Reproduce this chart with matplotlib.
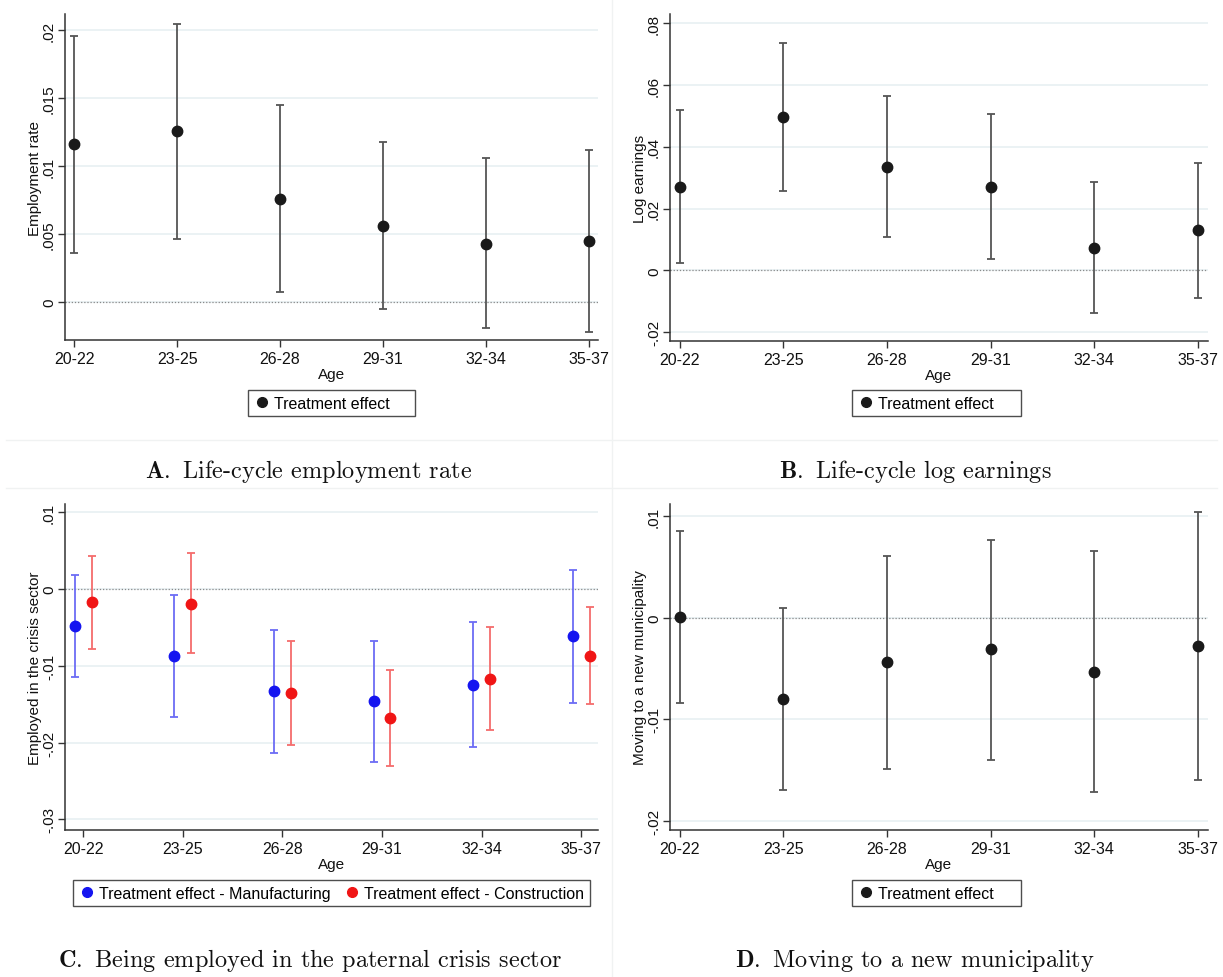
import matplotlib
matplotlib.use('Agg')
import matplotlib.pyplot as plt
from matplotlib.ticker import FuncFormatter
from matplotlib.lines import Line2D
import numpy as np

plt.rcParams['font.family'] = ['Liberation Sans', 'DejaVu Sans']
plt.rcParams['mathtext.fontset'] = 'cm'

ages = ['20-22', '23-25', '26-28', '29-31', '32-34', '35-37']

# A: life-cycle employment rate
emp_est = [0.0116, 0.0126, 0.0076, 0.0056, 0.0043, 0.0045]
emp_hi = [0.0196, 0.0205, 0.0145, 0.0118, 0.0106, 0.0112]
emp_lo = [0.0036, 0.0046, 0.0007, -0.0005, -0.0019, -0.0022]

# B: life-cycle log earnings
earn_est = [0.0270, 0.0495, 0.0335, 0.0270, 0.0073, 0.0130]
earn_hi = [0.0519, 0.0737, 0.0563, 0.0507, 0.0285, 0.0349]
earn_lo = [0.0024, 0.0256, 0.0108, 0.0036, -0.0137, -0.0090]

# C: employed in the paternal crisis sector
manu_est = [-0.0048, -0.0087, -0.0133, -0.0146, -0.0125, -0.0061]
manu_hi = [0.0018, -0.0008, -0.0053, -0.0068, -0.0043, 0.0025]
manu_lo = [-0.0115, -0.0167, -0.0214, -0.0225, -0.0206, -0.0148]
cons_est = [-0.0017, -0.0019, -0.0135, -0.0168, -0.0117, -0.0087]
cons_hi = [0.0043, 0.0047, -0.0068, -0.0105, -0.0050, -0.0023]
cons_lo = [-0.0078, -0.0083, -0.0203, -0.0230, -0.0183, -0.0150]

# D: moving to a new municipality
move_est = [0.0001, -0.0080, -0.0044, -0.0031, -0.0053, -0.0028]
move_hi = [0.0085, 0.0010, 0.0061, 0.0077, 0.0066, 0.0104]
move_lo = [-0.0084, -0.0170, -0.0149, -0.0140, -0.0172, -0.0160]

W, H = 1223, 978
fig = plt.figure(figsize=(W / 100, H / 100), dpi=100)


def rect(l, r, t, b):
    return [l / W, 1 - b / H, (r - l) / W, (b - t) / H]


def stata_fmt(v, pos):
    v = round(v, 6)
    if v == 0:
        return '0'
    s = f'{v:g}'
    return s.replace('0.', '.')


grey = '#555555'


def setup(ax, ylim, yticks, xlim, ylabel):
    ax.set_xlim(*xlim)
    ax.set_ylim(*ylim)
    ax.set_yticks(yticks)
    ax.set_xticks(range(len(ages)))
    ax.set_xticklabels(ages)
    ax.yaxis.set_major_formatter(FuncFormatter(stata_fmt))
    for lab in ax.get_yticklabels():
        lab.set_rotation(90)
        lab.set_va('center')
    ax.tick_params(axis='both', direction='out', length=5, width=1,
                   color='#333333', labelcolor='#111111')
    ax.tick_params(axis='x', labelsize=11.5, pad=3)
    ax.tick_params(axis='y', labelsize=11, pad=1.5)
    for s in ['top', 'right']:
        ax.spines[s].set_visible(False)
    for s in ['left', 'bottom']:
        ax.spines[s].set_color('#333333')
        ax.spines[s].set_linewidth(1.1)
    for yv in yticks:
        ax.axhline(yv, color='#e6eff1', lw=1.1, zorder=0)
    ax.axhline(0, color='#8a8a8a', lw=0.9, ls=(0, (1, 1.5)), zorder=1)
    ax.set_xlabel('Age', fontsize=11, labelpad=1, color='#111111')
    ax.set_ylabel(ylabel, fontsize=11, labelpad=0, color='#111111')


def err(ax, x, est, lo, hi, mcol, ecol):
    est = np.array(est)
    yerr = [est - np.array(lo), np.array(hi) - est]
    ax.errorbar(x, est, yerr=yerr, fmt='o', ms=7.5, mfc=mcol, mec=mcol,
                ecolor=ecol, elinewidth=1.3, capsize=3, capthick=1.3, zorder=3)


def legend(ax, handles, labels, l, r, t, ncol=1):
    ax.legend(handles, labels, loc='upper left', mode='expand', ncol=ncol,
              bbox_to_anchor=(l / W, 1 - t / H, (r - l) / W, 0.001),
              bbox_transform=fig.transFigure, frameon=True, fancybox=False,
              edgecolor='#222222', fontsize=11.5, handletextpad=0.3,
              borderpad=0.35, handlelength=1.0, borderaxespad=0,
              columnspacing=1.0)
    ax.get_legend().get_frame().set_linewidth(1.0)


x = np.arange(len(ages))
dot = Line2D([], [], ls='', marker='o', ms=7, color='#1a1a1a')

# Panel A
axA = fig.add_axes(rect(65, 598, 15, 341))
setup(axA, (-0.0028, 0.0212), [0, 0.005, 0.01, 0.015, 0.02], (-0.09, 5.09), 'Employment rate')
err(axA, x, emp_est, emp_lo, emp_hi, '#1a1a1a', grey)
legend(axA, [dot], ['Treatment effect'], 248, 415, 392)

# Panel B
axB = fig.add_axes(rect(670, 1208, 15, 342))
setup(axB, (-0.0229, 0.083), [-0.02, 0, 0.02, 0.04, 0.06, 0.08], (-0.095, 5.1), 'Log earnings')
err(axB, x, earn_est, earn_lo, earn_hi, '#1a1a1a', grey)
legend(axB, [dot], ['Treatment effect'], 852, 1021, 392)

# Panel C
off = 0.085
axC = fig.add_axes(rect(65, 598, 505, 831))
setup(axC, (-0.0314, 0.0111), [-0.03, -0.02, -0.01, 0, 0.01], (-0.185, 5.17), 'Employed in the crisis sector')
err(axC, x - off, manu_est, manu_lo, manu_hi, '#1515f0', '#6c6cf5')
err(axC, x + off, cons_est, cons_lo, cons_hi, '#f01515', '#f56c6c')
hb = Line2D([], [], ls='', marker='o', ms=7, color='#1515f0')
hr = Line2D([], [], ls='', marker='o', ms=7, color='#f01515')
legend(axC, [hb, hr], ['Treatment effect - Manufacturing', 'Treatment effect - Construction'],
       73, 590, 882, ncol=2)

# Panel D
axD = fig.add_axes(rect(670, 1208, 505, 831))
setup(axD, (-0.0209, 0.0112), [-0.02, -0.01, 0, 0.01], (-0.095, 5.1), 'Moving to a new municipality')
err(axD, x, move_est, move_lo, move_hi, '#1a1a1a', grey)
legend(axD, [dot], ['Treatment effect'], 852, 1021, 882)

# captions
caps = [(309, 478, r'$\mathbf{A.}$ Life-cycle employment rate'),
        (915, 478, r'$\mathbf{B.}$ Life-cycle log earnings'),
        (310, 967, r'$\mathbf{C.}$ Being employed in the paternal crisis sector'),
        (915, 967, r'$\mathbf{D.}$ Moving to a new municipality')]
for cx, cy, txt in caps:
    fig.text(cx / W, 1 - cy / H, txt, ha='center', va='baseline',
             family='cmr10', fontsize=17.5, color='#111111')

# faint panel frames
sep = '#f0f2f2'
for yy in [441, 489]:
    fig.add_artist(Line2D([6 / W, 1217 / W], [1 - yy / H] * 2, color=sep, lw=1))
fig.add_artist(Line2D([612 / W] * 2, [1, 0], color=sep, lw=1))

fig.savefig('out.png', dpi=100, facecolor='white')
